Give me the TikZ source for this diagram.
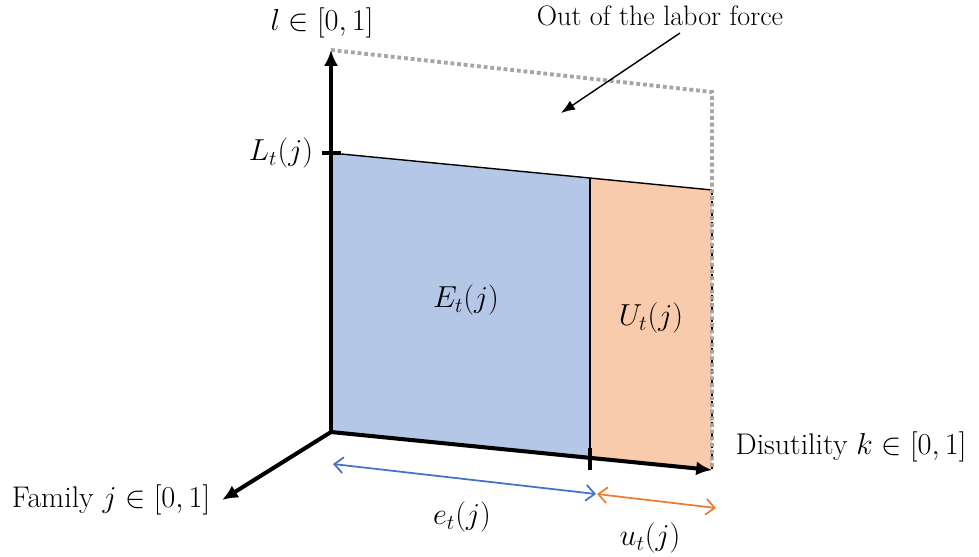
\documentclass[tikz,border=0pt]{standalone}
\usepackage{amsmath}
\usetikzlibrary{arrows.meta, calc}
\definecolor{EmpBlue}{RGB}{180, 199, 231}
\definecolor{UnempOrange}{RGB}{248, 203, 173}
\definecolor{ArrBlue}{RGB}{68, 114, 196}
\definecolor{ArrOrange}{RGB}{237, 125, 49}
\definecolor{DotGray}{RGB}{166, 166, 166}

\begin{document}
\begin{tikzpicture}[
    x=0.02cm, y=-0.02cm,
    font=\fontsize{17}{20}\selectfont,
    axis/.style={line width=2.3pt, -{Latex[length=9pt, width=8pt]}},
    tick/.style={line width=2.3pt},
    edge/.style={draw=black, line width=0.8pt},
    outline/.style={draw=DotGray, line width=2.2pt, dash pattern=on 2.2pt off 1.6pt},
    span/.style={line width=1pt, {Straight Barb[length=5pt, width=9pt]}-{Straight Barb[length=5pt, width=9pt]}},
    pointer/.style={line width=0.8pt, -{Latex[length=8pt, width=6pt]}}
]
\useasboundingbox (0,0) rectangle (979,556);

% corners of the labor force plane
\coordinate (origin) at (331,432);
\coordinate (lTop) at (331,50);
\coordinate (LTop) at (331,153);
\coordinate (eTop) at (590,178);
\coordinate (eBot) at (590,460);
\coordinate (uTop) at (712,190);
\coordinate (kEnd) at (712,470);
\coordinate (outCorner) at (712,92);
\coordinate (jEnd) at (222,500);

% shaded areas
\fill[EmpBlue] (origin) -- (LTop) -- (eTop) -- (eBot) -- cycle;
\fill[UnempOrange] (eBot) -- (eTop) -- (uTop) -- (kEnd) -- cycle;
\draw[edge] (LTop) -- (eTop) -- (uTop);
\draw[edge] (eTop) -- (eBot);
\draw[edge, dashed] (uTop) -- (kEnd);

% out of the labor force
\draw[outline] (lTop) -- (outCorner) -- (kEnd);

% axes
\draw[axis] (origin) -- (lTop);
\draw[axis] (origin) -- (kEnd);
\draw[axis] (origin) -- (jEnd);
\draw[tick] ($(LTop)+(-9,0)$) -- ($(LTop)+(10,0)$);
\draw[tick] ($(eBot)+(0,-12)$) -- ($(eBot)+(0,10)$);

% labels
\node[inner sep=0pt] (lLabel) at (322,23) {$l \in [0,1]$};
\node (LLabel) at (281,153) {$L_t(j)$};
\node (kLabel) at (851,447) {Disutility $k \in [0,1]$};
\node (jLabel) at (111,500) {Family $j \in [0,1]$};
\node (ELabel) at (466,300) {$E_t(j)$};
\node (ULabel) at (651,318) {$U_t(j)$};
\node[font=\fontsize{16}{19}\selectfont] (outLabel) at (660,16) {Out of the labor force};
\coordinate (outTip) at (561,113);
\draw[pointer] (680,33) -- (outTip);

% widths of the two groups
\coordinate (eL) at (333,464);
\coordinate (eR) at (596,494);
\coordinate (uL) at (597,494);
\coordinate (uR) at (716,508);
\draw[span, ArrBlue] (eL) -- (eR);
\draw[span, ArrOrange] (uL) -- (uR);
\node (eLabel) at (462,517) {$e_t(j)$};
\node (uLabel) at (650,538) {$u_t(j)$};

\end{tikzpicture}
\end{document}
